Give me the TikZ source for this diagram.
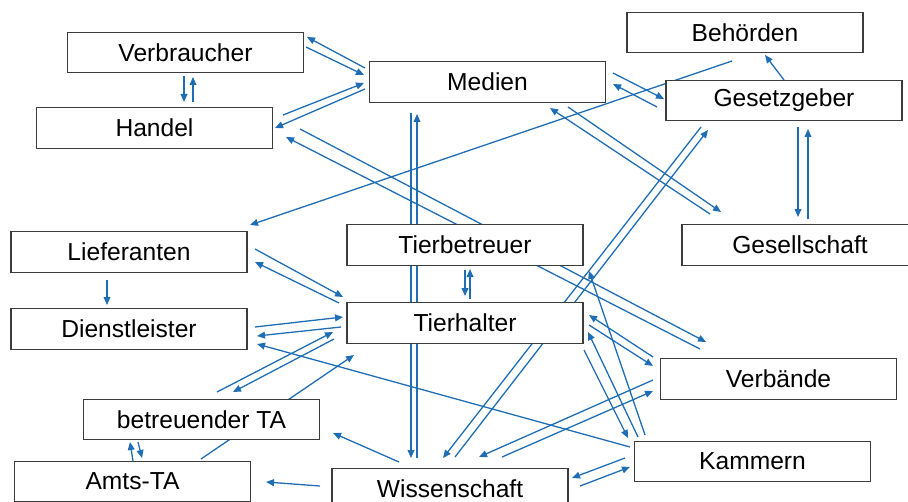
\documentclass[tikz,border=0pt]{standalone}
\usepackage{fontspec}
\setmainfont{Liberation Sans}
\usetikzlibrary{arrows.meta,calc,backgrounds}
\definecolor{flowblue}{HTML}{1F6EB5}
\definecolor{boxgray}{HTML}{3C3C3C}
\tikzset{
  actnode/.style={rectangle,draw=boxgray,line width=0.65pt,fill=white,minimum width=118pt,minimum height=20.3pt,inner sep=0pt,font=\fontsize{12.3}{14}\selectfont},
  flow/.style={-{Triangle[length=4pt,width=3.4pt]},line width=0.65pt,flowblue},
}

\begin{document}
\begin{tikzpicture}[x=0.5pt,y=-0.5pt]
  \useasboundingbox (0,0) rectangle (908,502);
  % actors
  \node[actnode] (nVer) at (185.5,52.5) {Verbraucher};
  \node[actnode] (nHan) at (154.5,128) {Handel};
  \node[actnode] (nMed) at (487.5,82) {Medien};
  \node[actnode] (nBeh) at (745,32.5) {Behörden};
  \node[actnode] (nGzg) at (784,100.5) {Gesetzgeber};
  \node[actnode] (nLie) at (129,252) {Lieferanten};
  \node[actnode] (nTbe) at (465,245) {Tierbetreuer};
  \node[actnode] (nGsl) at (800,245) {Gesellschaft};
  \node[actnode] (nDie) at (129,329) {Dienstleister};
  \node[actnode] (nThl) at (465,323) {Tierhalter};
  \node[actnode] (nVbd) at (778.5,379) {Verbände};
  \node[actnode] (nBta) at (201.5,419.5) {betreuender TA};
  \node[actnode] (nAta) at (132.5,481.5) {Amts-TA};
  \node[actnode] (nWis) at (450,488.5) {Wissenschaft};
  \node[actnode] (nKam) at (752.5,461.5) {Kammern};
  % relations
  \begin{scope}[on background layer]
    \draw[flow] ($(nVer)+(120.5,-5.5)$) -- ($(nMed)+(-123.5,-7)$);
    \draw[flow] ($(nMed)+(-122.5,-14)$) -- ($(nVer)+(121.5,-15.5)$);
    \draw[flow] ($(nHan)+(128.5,-13)$) -- ($(nMed)+(-123.5,1)$);
    \draw[flow] ($(nMed)+(-122.5,7)$) -- ($(nHan)+(120.5,0)$);
    \draw[flow] ($(nVer)+(-1.5,23.5)$) -- ($(nHan)+(29.5,-26)$);
    \draw[flow] ($(nHan)+(38.5,-26)$) -- ($(nVer)+(7.5,24.5)$);
    \draw[flow] ($(nMed)+(-76.5,31)$) -- ($(nWis)+(-39,-30.5)$);
    \draw[flow] ($(nWis)+(-33,-30.5)$) -- ($(nMed)+(-70.5,32)$);
    \draw[flow] ($(nHan)+(145.5,1)$) -- ($(nVbd)+(-72.5,-37)$);
    \draw[flow] ($(nVbd)+(-78.5,-30)$) -- ($(nHan)+(131.5,9)$);
    \draw[flow] ($(nMed)+(125.5,-9)$) -- ($(nGzg)+(-120,-1.5)$);
    \draw[flow] ($(nGzg)+(-127,6.5)$) -- ($(nMed)+(125.5,2)$);
    \draw[flow] ($(nBeh)+(-13,28.5)$) -- ($(nLie)+(121,-27)$);
    \draw[flow] ($(nGzg)+(0,-20.5)$) -- ($(nBeh)+(20,22.5)$);
    \draw[flow] ($(nGzg)+(14,26.5)$) -- ($(nGsl)+(-2,-28)$);
    \draw[flow] ($(nGsl)+(8,-26)$) -- ($(nGzg)+(24,28.5)$);
    \draw[flow] ($(nMed)+(80.5,25)$) -- ($(nGsl)+(-79,-33)$);
    \draw[flow] ($(nGsl)+(-90,-31)$) -- ($(nMed)+(62.5,26)$);
    \draw[flow] ($(nGzg)+(-83,26.5)$) -- ($(nWis)+(-7,-30.5)$);
    \draw[flow] ($(nWis)+(5,-31.5)$) -- ($(nGzg)+(-76,29.5)$);
    \draw[flow] ($(nTbe)+(0,25)$) -- ($(nThl)+(0,-27)$);
    \draw[flow] ($(nThl)+(5,-24)$) -- ($(nTbe)+(5,24)$);
    \draw[flow] ($(nKam)+(-107.5,-26.5)$) -- ($(nTbe)+(124,26)$);
    \draw[flow] ($(nVbd)+(-125.5,-22)$) -- ($(nThl)+(124,-8)$);
    \draw[flow] ($(nThl)+(124,2)$) -- ($(nVbd)+(-125.5,-13)$);
    \draw[flow] ($(nKam)+(-114.5,-24.5)$) -- ($(nThl)+(123,9)$);
    \draw[flow] ($(nThl)+(119,27)$) -- ($(nKam)+(-124.5,-23.5)$);
    \draw[flow] ($(nVbd)+(-125.5,1)$) -- ($(nWis)+(29,-31.5)$);
    \draw[flow] ($(nWis)+(52,-31.5)$) -- ($(nVbd)+(-125.5,12)$);
    \draw[flow] ($(nKam)+(-127.5,-3.5)$) -- ($(nWis)+(122,-10.5)$);
    \draw[flow] ($(nWis)+(130,-2.5)$) -- ($(nKam)+(-122.5,5.5)$);
    \draw[flow] ($(nKam)+(-122.5,-14.5)$) -- ($(nDie)+(128,15)$);
    \draw[flow] ($(nLie)+(126,-3)$) -- ($(nThl)+(-122,-26)$);
    \draw[flow] ($(nThl)+(-126,-20)$) -- ($(nLie)+(126,10)$);
    \draw[flow] ($(nLie)+(-22,28)$) -- ($(nDie)+(-22,-24)$);
    \draw[flow] ($(nDie)+(126,-2)$) -- ($(nThl)+(-122,-6)$);
    \draw[flow] ($(nThl)+(-124,4)$) -- ($(nDie)+(128,7)$);
    \draw[flow] ($(nBta)+(15.5,-27.5)$) -- ($(nThl)+(-132,9)$);
    \draw[flow] ($(nThl)+(-131,16)$) -- ($(nBta)+(31.5,-27.5)$);
    \draw[flow] ($(nAta)+(68.5,-22.5)$) -- ($(nThl)+(-111,32)$);
    \draw[flow] ($(nAta)+(0.5,-20.5)$) -- ($(nBta)+(-71.5,22.5)$);
    \draw[flow] ($(nBta)+(-63.5,22.5)$) -- ($(nAta)+(9.5,-23.5)$);
    \draw[flow] ($(nWis)+(-51,-26.5)$) -- ($(nBta)+(131.5,13.5)$);
    \draw[flow] ($(nWis)+(-130,-2.5)$) -- ($(nAta)+(133.5,0.5)$);
  \end{scope}
\end{tikzpicture}
\end{document}
